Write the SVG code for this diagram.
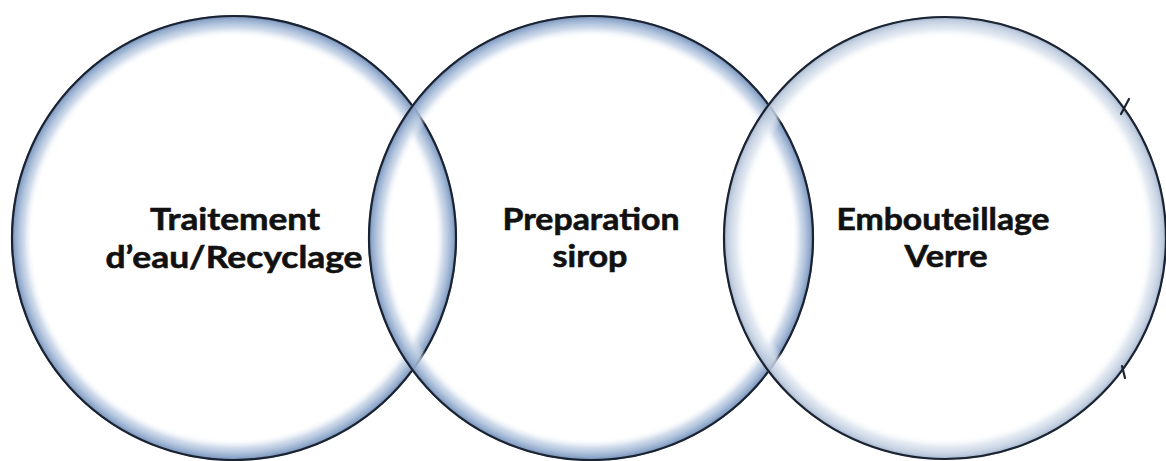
<svg xmlns="http://www.w3.org/2000/svg" width="1166" height="461" viewBox="0 0 1166 461">
  <style>
    .outline { fill: none; stroke: #1b2331; stroke-width: 2.2; }
    .label { font-family: Lato, "Open Sans", "Liberation Sans", sans-serif; font-weight: bold; font-size: 31px; fill: #111111; stroke: #111111; stroke-width: 0.6; text-anchor: middle; }
    .tick { stroke: #1b2331; stroke-width: 2.2; stroke-linecap: round; }
  </style>
  <defs>
    <radialGradient id="ringBlue" cx="50%" cy="50%" r="50%">
      <stop offset="0.9" stop-color="#ffffff" stop-opacity="0"/>
      <stop offset="0.94" stop-color="#c2d1e5" stop-opacity="0.75"/>
      <stop offset="0.98" stop-color="#8fa8cc" stop-opacity="0.95"/>
      <stop offset="1" stop-color="#6d86ad" stop-opacity="1"/>
    </radialGradient>
    <radialGradient id="ringLight" cx="50%" cy="50%" r="50%">
      <stop offset="0.9" stop-color="#ffffff" stop-opacity="0"/>
      <stop offset="0.94" stop-color="#dbe3ee" stop-opacity="0.75"/>
      <stop offset="0.98" stop-color="#bac8dc" stop-opacity="0.9"/>
      <stop offset="1" stop-color="#95a7c0" stop-opacity="1"/>
    </radialGradient>
  </defs>
  <rect width="1166" height="461" fill="#ffffff"/>

  <g id="node-traitement">
    <circle cx="234" cy="238" r="223" fill="url(#ringBlue)"/>
    <circle class="outline" cx="234" cy="238" r="222"/>
    <text class="label" x="235" y="230" textLength="170" lengthAdjust="spacingAndGlyphs">Traitement</text>
    <text class="label" x="234" y="268" textLength="257" lengthAdjust="spacingAndGlyphs">d’eau/Recyclage</text>
  </g>

  <g id="node-preparation">
    <circle cx="591" cy="238" r="223" fill="url(#ringBlue)"/>
    <circle class="outline" cx="591" cy="238" r="222"/>
    <text class="label" x="591" y="230" textLength="177" lengthAdjust="spacingAndGlyphs">Preparation</text>
    <text class="label" x="590" y="267" textLength="75" lengthAdjust="spacingAndGlyphs">sirop</text>
  </g>

  <g id="node-embouteillage">
    <circle cx="945" cy="238" r="222" fill="url(#ringLight)"/>
    <circle class="outline" cx="945" cy="238" r="221"/>
    <text class="label" x="943" y="230" textLength="213" lengthAdjust="spacingAndGlyphs">Embouteillage</text>
    <text class="label" x="946" y="267" textLength="83" lengthAdjust="spacingAndGlyphs">Verre</text>
    <line class="tick" x1="1121" y1="114" x2="1129" y2="99"/>
    <line class="tick" x1="1122" y1="366" x2="1125" y2="378"/>
  </g>

  <g id="connectors"></g>
</svg>
